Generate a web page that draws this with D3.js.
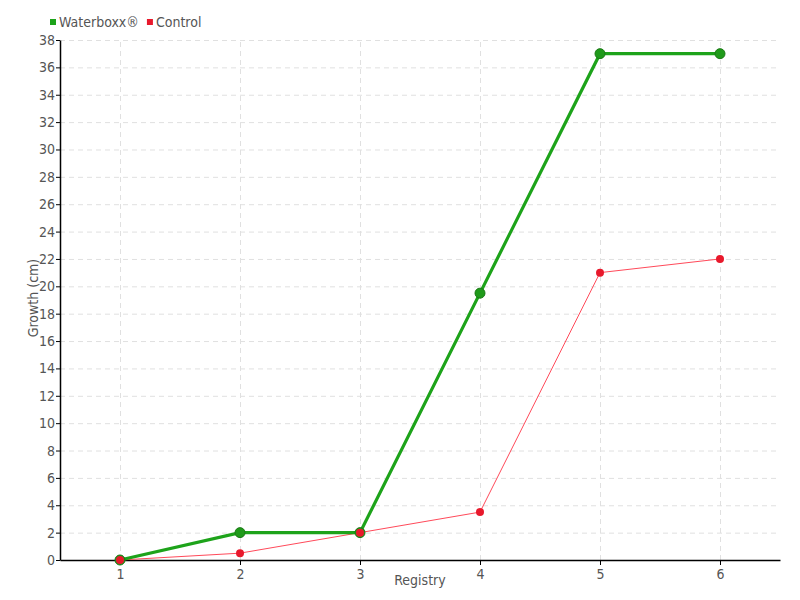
<!DOCTYPE html>
<html>
<head>
<meta charset="utf-8">
<script src="https://cdn.jsdelivr.net/npm/d3@7"></script>
<style>
  body { margin: 0; background: #fff; }
  text { font-family: "Liberation Sans Narrow", "DejaVu Sans Condensed", sans-serif; fill: #555; }
  .grid line { stroke: #e0e0e0; stroke-dasharray: 5,4; }
  .grid path { display: none; }
</style>
</head>
<body>
<script>
"use strict";

const registry = [1, 2, 3, 4, 5, 6];
const waterboxx = [0, 2, 2, 19.5, 37, 37];
const control = [0, 0.5, 2, 3.5, 21, 22];
const yTicks = d3.range(0, 39, 2);

const w = 800, h = 600;
const padL = 60, padR = 780, padT = 40, padB = 560;

const svg = d3.select("body").append("svg")
  .attr("width", w)
  .attr("height", h);

const xScale = d3.scaleLinear().domain([0.5, 6.5]).range([padL, padR]);
const yScale = d3.scaleLinear().domain([0, 38]).range([padB, padT]);

// grid
svg.append("g")
  .attr("class", "grid")
  .attr("transform", "translate(0," + padB + ")")
  .call(d3.axisBottom(xScale).tickValues(registry).tickSize(-(padB - padT)).tickFormat(""));
svg.append("g")
  .attr("class", "grid")
  .attr("transform", "translate(" + padL + ",0)")
  .call(d3.axisLeft(yScale).tickValues(yTicks.slice(1)).tickSize(-(padR - padL)).tickFormat(""));

// axes
const xAxis = svg.append("g")
  .attr("transform", "translate(0," + padB + ")")
  .call(d3.axisBottom(xScale).tickValues(registry).tickFormat(d3.format("d")).tickSize(5).tickSizeOuter(0));
const yAxis = svg.append("g")
  .attr("transform", "translate(" + padL + ",0)")
  .call(d3.axisLeft(yScale).tickValues(yTicks).tickFormat(d3.format("d")).tickSize(4).tickSizeOuter(0));
[xAxis, yAxis].forEach(a => {
  a.selectAll("path").attr("stroke", "#000").attr("stroke-width", 1.5);
  a.selectAll("line").attr("stroke", "#000");
  a.selectAll("text").style("font-size", "14px").attr("fill", "#555");
});
xAxis.selectAll("text").attr("dy", "0.8em");
yAxis.selectAll("text").attr("x", -5);

// labels
svg.append("text")
  .attr("x", 420).attr("y", 585)
  .attr("text-anchor", "middle")
  .style("font-size", "14px")
  .text("Registry");
svg.append("text")
  .attr("transform", "translate(38,298) rotate(-90)")
  .attr("text-anchor", "middle")
  .style("font-size", "14px")
  .text("Growth (cm)");

const line = d3.line().x((d, i) => xScale(registry[i])).y(d => yScale(d));

// control
svg.append("path").datum(control)
  .attr("d", line).attr("fill", "none")
  .attr("stroke", "#ff4a5a").attr("stroke-width", 1);

// waterboxx
svg.append("path").datum(waterboxx)
  .attr("d", line).attr("fill", "none")
  .attr("stroke", "#1da31a").attr("stroke-width", 3.2);
svg.selectAll("circle.wb").data(waterboxx).enter().append("circle")
  .attr("class", "wb")
  .attr("cx", (d, i) => xScale(registry[i])).attr("cy", d => yScale(d))
  .attr("r", 5).attr("fill", "#1f9a1a").attr("stroke", "#1a7a15").attr("stroke-width", 1);

svg.selectAll("circle.ct").data(control).enter().append("circle")
  .attr("class", "ct")
  .attr("cx", (d, i) => xScale(registry[i])).attr("cy", d => yScale(d))
  .attr("r", 4).attr("fill", "#e8192c");

// legend
const legendNames = ["Waterboxx®", "Control"];
const legendColors = ["#1da31a", "#e8192c"];
let lx = 50;
legendNames.forEach((name, i) => {
  svg.append("rect").attr("x", lx).attr("y", 19).attr("width", 6).attr("height", 6).attr("fill", legendColors[i]);
  const t = svg.append("text").attr("x", lx + 9).attr("y", 27).style("font-size", "14px").text(name);
  lx += 9 + t.node().getComputedTextLength() + 8;
});
</script>
</body>
</html>
